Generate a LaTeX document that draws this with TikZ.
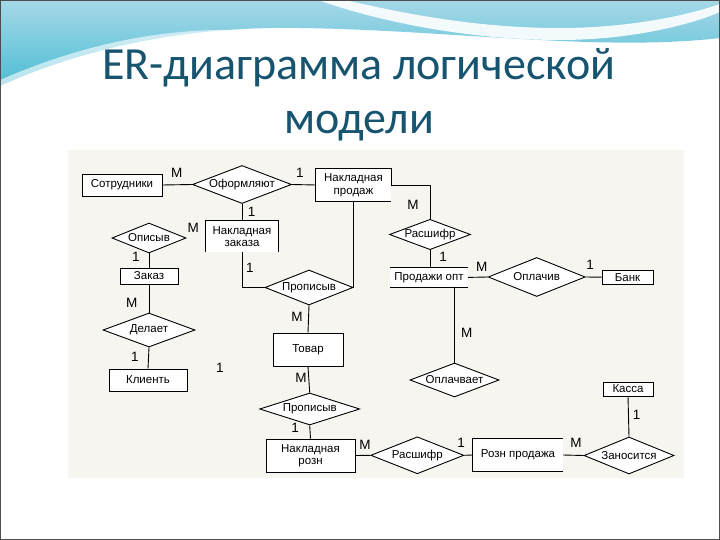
\documentclass[tikz,border=0pt]{standalone}
\usepackage{fontspec}
\setmainfont{Liberation Sans}
\newfontfamily\titlefont{Carlito}
\usetikzlibrary{shapes.geometric}
\definecolor{titlecol}{RGB}{22,84,112}
\definecolor{diagbg}{RGB}{247,245,240}
\definecolor{cyanA}{RGB}{165,216,232}
\definecolor{cyanB}{RGB}{78,190,212}
\tikzset{
  ent/.style={draw=black,fill=white,line width=0.9pt,inner sep=0pt,font=\fontsize{11.5}{12.5}\selectfont,align=center},
  entopen/.style={fill=white,inner sep=0pt,font=\fontsize{11.5}{12.5}\selectfont,align=center},
  rel/.style={diamond,draw=black,fill=white,line width=0.9pt,inner sep=0pt,aspect=2.6,font=\fontsize{11.5}{12.5}\selectfont},
  conn/.style={line width=0.9pt},
  card/.style={font=\fontsize{13.5}{13.5}\selectfont,inner sep=0pt}
}
\begin{document}
\begin{tikzpicture}[x=1pt,y=-1pt]
\useasboundingbox (0,0) rectangle (720,540);
\fill[white] (0,0) rectangle (720,540);
% top waves
\shade[top color=cyanA,bottom color=cyanB] (0,0) -- (720,0) -- (720,38) .. controls (600,52) and (450,30) .. (300,28) .. controls (180,26) and (80,50) .. (0,86) -- cycle;
\fill[white,opacity=0.9] (318,0) .. controls (380,22) and (470,40) .. (560,40) .. controls (630,40) and (690,25) .. (720,12) -- (720,4) .. controls (680,18) and (620,28) .. (560,28) .. controls (480,28) and (410,15) .. (345,0) -- cycle;
\fill[white,opacity=0.6] (0,80) .. controls (80,45) and (160,28) .. (240,30) .. controls (330,32) and (420,46) .. (520,45) -- (520,50) .. controls (420,52) and (330,38) .. (240,36) .. controls (160,34) and (80,52) .. (0,90) -- cycle;
\fill[white] (0,92) .. controls (80,55) and (160,38) .. (240,40) .. controls (400,44) and (560,62) .. (720,40) -- (720,540) -- (0,540) -- cycle;
% title
\node[font=\titlefont\fontsize{46}{46}\selectfont,text=titlecol,anchor=base] (t1) at (359,80) {ER-диаграмма логической};
\node[font=\titlefont\fontsize{46}{46}\selectfont,text=titlecol,anchor=base] (t2) at (359,134) {модели};
% diagram background
\fill[diagbg] (68,150) rectangle (684,478);
% entities
\node[ent,minimum width=80pt,minimum height=22pt] (sotr) at (122,185) {Сотрудники};
\node[entopen,minimum width=75pt,minimum height=32pt] (nprod) at (353.5,185) {Накладная\\продаж};
\node[entopen,minimum width=72pt,minimum height=31pt] (nzak) at (242,236.5) {Накладная\\заказа};
\node[ent,minimum width=58pt,minimum height=16pt] (zakaz) at (149,276) {Заказ};
\node[ent,minimum width=78pt,minimum height=22pt] (klient) at (148,380) {Клиенть};
\node[ent,minimum width=70pt,minimum height=33pt] (tovar) at (308,349.5) {Товар};
\node[entopen,minimum width=78pt,minimum height=20pt] (prodopt) at (429,277.4) {Продажи опт};
\node[ent,minimum width=51pt,minimum height=14pt] (bank) at (627.5,277.2) {Банк};
\node[ent,minimum width=89pt,minimum height=33pt] (nrozn) at (310.5,455.5) {Накладная\\розн};
\node[entopen,minimum width=90pt,minimum height=32pt] (rprod) at (518,455) {Розн продажа};
\node[ent,minimum width=50pt,minimum height=14pt] (kassa) at (628,389) {Касса};
% open-box borders
\draw[conn] (nprod.east) -- (nprod.north east) -- (nprod.north west) -- (nprod.south west) -- (nprod.south east);
\draw[conn] (nzak.south west) -- (nzak.north west) -- (nzak.north east) -- (nzak.south east);
\draw[conn] (prodopt.north west) -- (prodopt.north east);
\draw[conn] (prodopt.south west) -- (prodopt.south east);
\draw[conn] (rprod.north east) -- (rprod.north west) -- (rprod.south west) -- (rprod.south east);
% relationships
\node[rel,minimum width=99pt,minimum height=38pt] (oform) at (242,184.5) {Оформляют};
\node[rel,minimum width=74pt,minimum height=30pt] (opis) at (149,238) {Описыв};
\node[rel,minimum width=92pt,minimum height=34pt] (delaet) at (149,330) {Делает};
\node[rel,minimum width=88pt,minimum height=35pt] (propisA) at (309,287.5) {Прописыв};
\node[rel,minimum width=100pt,minimum height=32pt] (propisB) at (309.7,409) {Прописыв};
\node[rel,minimum width=81pt,minimum height=29pt] (rasA) at (430,234.5) {Расшифр};
\node[rel,minimum width=97pt,minimum height=39pt] (oplachiv) at (536.7,277) {Оплачив};
\node[rel,minimum width=89pt,minimum height=34pt] (oplvaet) at (454.5,380) {Оплачвает};
\node[rel,minimum width=93pt,minimum height=37pt] (rasB) at (417.3,455.3) {Расшифр};
\node[rel,minimum width=90pt,minimum height=37pt] (zanos) at (629,455.5) {Заносится};
% connectors
\draw[conn] (sotr.east) -- (oform.west);
\draw[conn] (oform.east) -- (nprod.west);
\draw[conn] (oform.south) -- (nzak.north);
\draw[conn] (opis.south) -- (zakaz.north);
\draw[conn] (zakaz.south) -- (delaet.north);
\draw[conn] (delaet.south) -- (klient.north);
\draw[conn] (nzak.south) |- (propisA.west);
\draw[conn] (nprod.south) |- (propisA.east);
\draw[conn] (propisA.south) -- (tovar.north);
\draw[conn] (tovar.south) -- (propisB.north);
\draw[conn] (propisB.south) -- (nrozn.north);
\draw[conn] (nprod.east) -| (rasA.north);
\draw[conn] (rasA.south) -- (rasA.south |- prodopt.north);
\draw[conn] (prodopt.east) -- (oplachiv.west);
\draw[conn] (oplachiv.east) -- (bank.west);
\draw[conn] (oplvaet.north |- prodopt.south) -- (oplvaet.north);
\draw[conn] (nrozn.east) -- (rasB.west);
\draw[conn] (rasB.east) -- (rprod.west);
\draw[conn] (rprod.east) -- (zanos.west);
\draw[conn] (kassa.south) -- (zanos.north);
% cardinalities
\node[card] (c1) at (176.7,173) {M};
\node[card] (c2) at (300,173) {1};
\node[card] (c3) at (251.7,212) {1};
\node[card] (c4) at (193.3,228) {M};
\node[card] (c5) at (136,257) {1};
\node[card] (c6) at (131.7,303) {M};
\node[card] (c7) at (135,357) {1};
\node[card] (c8) at (220,368) {1};
\node[card] (c9) at (250,268) {1};
\node[card] (c10) at (297,317) {M};
\node[card] (c11) at (301,378) {M};
\node[card] (c12) at (295,428) {1};
\node[card] (c13) at (413,205) {M};
\node[card] (c14) at (443,257) {1};
\node[card] (c15) at (481.7,267) {M};
\node[card] (c16) at (590,265) {1};
\node[card] (c17) at (466.7,333) {M};
\node[card] (c18) at (636.7,415) {1};
\node[card] (c19) at (365,445) {M};
\node[card] (c20) at (461,443) {1};
\node[card] (c21) at (576,443) {M};
% slide frame
\draw[line width=1.5pt,black!70] (0,0) rectangle (720,540);
\end{tikzpicture}
\end{document}
